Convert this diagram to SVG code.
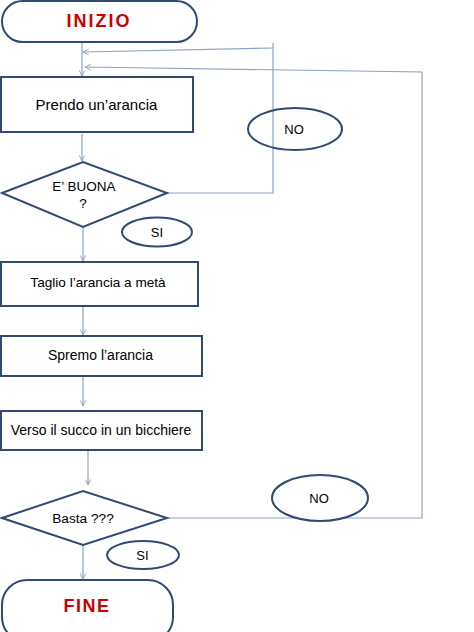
<svg xmlns="http://www.w3.org/2000/svg" width="474" height="632" viewBox="0 0 474 632">
<style>
.s{fill:#fff;stroke:#2F4B74;stroke-width:2}
.o{fill:none;stroke:#2F4B74;stroke-width:2}
.c{fill:none;stroke:#8DA3C2;stroke-width:1.2}
.t{font-family:"Liberation Sans",Arial,sans-serif;fill:#000;text-anchor:middle}
.r{font-family:"Liberation Sans",Arial,sans-serif;font-weight:bold;fill:#CC0000;text-anchor:middle}
</style>
<defs>
<marker id="a" viewBox="0 0 10 10" refX="9" refY="5" markerWidth="7" markerHeight="7" orient="auto" markerUnits="userSpaceOnUse">
<path d="M1,1 L9,5 L1,9" fill="none" stroke="#8DA3C2" stroke-width="1.3"/>
</marker>
</defs>
<g id="connectors">
<path class="c" d="M82,42 V76" marker-end="url(#a)"/>
<path class="c" d="M167,193 H273 V43"/>
<path class="c" d="M273,48 L83,52" marker-end="url(#a)"/>
<path class="c" d="M167,518 H422 V72 L85,67" marker-end="url(#a)"/>
<path class="c" d="M82,134 V161" marker-end="url(#a)"/>
<path class="c" d="M83,227 V261" marker-end="url(#a)"/>
<path class="c" d="M83,307 V335" marker-end="url(#a)"/>
<path class="c" d="M83,377 V406" marker-end="url(#a)"/>
<path class="c" d="M88,451 V485" marker-end="url(#a)"/>
<path class="c" d="M83,545 V579" marker-end="url(#a)"/>
</g>
<g id="inizio">
<rect class="s" x="2" y="1" width="195" height="41" rx="20.5"/>
<text class="r" x="99" y="27" font-size="18" letter-spacing="2">INIZIO</text>
</g>
<g id="prendo">
<rect class="s" x="1" y="77" width="192" height="55"/>
<text class="t" x="96.5" y="110" font-size="15">Prendo un’arancia</text>
</g>
<g id="buona">
<polygon class="s" points="2,193 83,162 167,193 83,227"/>
<text class="t" x="84" y="191" font-size="13.5">E’ BUONA</text>
<text class="t" x="83" y="208" font-size="13.5">?</text>
</g>
<g id="no1">
<ellipse class="o" cx="295" cy="129" rx="47" ry="21"/>
<text class="t" x="294" y="134" font-size="13">NO</text>
</g>
<g id="si1">
<ellipse class="s" cx="157" cy="232" rx="35" ry="14.5"/>
<text class="t" x="157" y="237" font-size="13">SI</text>
</g>
<g id="taglio">
<rect class="s" x="1" y="262" width="197" height="44"/>
<text class="t" x="98" y="287" font-size="13.6">Taglio l’arancia a metà</text>
</g>
<g id="spremo">
<rect class="s" x="1" y="336" width="201" height="40"/>
<text class="t" x="100.5" y="360" font-size="14">Spremo l’arancia</text>
</g>
<g id="verso">
<rect class="s" x="1" y="411" width="201" height="39"/>
<text class="t" x="101" y="435" font-size="14">Verso il succo in un bicchiere</text>
</g>
<g id="basta">
<polygon class="s" points="2,518 83,491 167,518 83,545"/>
<text class="t" x="83" y="523" font-size="13.7">Basta ???</text>
</g>
<g id="no2">
<ellipse class="s" cx="320" cy="498" rx="48" ry="23"/>
<text class="t" x="319" y="503" font-size="13">NO</text>
</g>
<g id="si2">
<ellipse class="s" cx="143" cy="555" rx="36" ry="14"/>
<text class="t" x="142.5" y="560" font-size="13">SI</text>
</g>
<g id="fine">
<rect class="s" x="2" y="580" width="171" height="62" rx="25"/>
<text class="r" x="87" y="612" font-size="18" letter-spacing="1.5">FINE</text>
</g>
</svg>
